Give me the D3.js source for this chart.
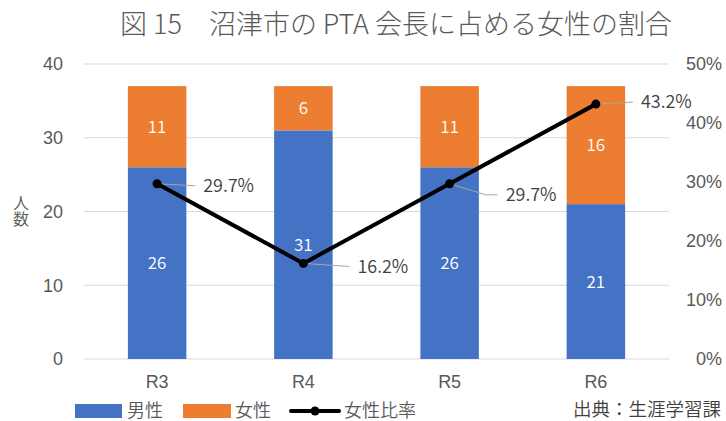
<!DOCTYPE html>
<html>
<head>
<meta charset="utf-8">
<script src="https://cdn.jsdelivr.net/npm/d3@7"></script>
<style>
  body { margin: 0; background: #fff; }
  svg { font-family: "Noto Sans CJK JP", "Noto Sans", sans-serif; font-weight: 350; }
  .tick line { display: none; }
  .domain { display: none; }
  .tick text { fill: #595959; font-size: 18px; }
</style>
</head>
<body>
<div id="box-div"></div>
<script>
// データ
const years = ['R3', 'R4', 'R5', 'R6']
const male = [26, 31, 26, 21]
const female = [11, 6, 11, 16]
const ratio = [29.7, 16.2, 29.7, 43.2]
const leftTicks = [0, 10, 20, 30, 40]
const rightTicks = [0, 10, 20, 30, 40, 50]

let dms = {
    width: 726,
    height: 421,
    margin: { top: 64, right: 57, bottom: 62, left: 84 }
}
dms.chartWidth = dms.width - dms.margin.left - dms.margin.right
dms.chartHeight = dms.height - dms.margin.top - dms.margin.bottom

const box = d3.select('#box-div').append('svg')
    .attr('width', dms.width)
    .attr('height', dms.height)

// タイトル
box.append('text')
    .attr('x', 396)
    .attr('y', 34)
    .attr('text-anchor', 'middle')
    .style('font-size', '27px')
    .style('font-weight', 300)
    .style('fill', '#595959')
    .text('図 15　沼津市の PTA 会長に占める女性の割合')

const content = box.append('g')
    .attr('transform', `translate(${dms.margin.left}, ${dms.margin.top})`)

const xScale = d3.scaleBand()
    .domain(years)
    .range([0, dms.chartWidth])
    .paddingInner(0.6)
    .paddingOuter(0.3)

const yScale = d3.scaleLinear()
    .domain([0, 40])
    .range([dms.chartHeight, 0])

const rScale = d3.scaleLinear()
    .domain([0, 50])
    .range([dms.chartHeight, 0])

// グリッド線
content.append('g').selectAll('line')
    .data(leftTicks)
    .join('line')
    .attr('x1', 0)
    .attr('x2', dms.chartWidth)
    .attr('y1', d => yScale(d))
    .attr('y2', d => yScale(d))
    .attr('stroke', '#d9d9d9')
    .attr('stroke-width', 1)

// 軸
content.append('g')
    .call(d3.axisLeft(yScale).tickValues(leftTicks).tickSize(0).tickPadding(21))

content.append('g')
    .attr('transform', `translate(${dms.chartWidth}, 0)`)
    .call(d3.axisRight(rScale).tickValues(rightTicks).tickSize(0).tickPadding(0)
        .tickFormat(d => d + '%'))
    .selectAll('text')
    .attr('text-anchor', 'end')
    .attr('x', 53)

content.append('g')
    .attr('transform', `translate(0, ${dms.chartHeight})`)
    .call(d3.axisBottom(xScale).tickSize(0).tickPadding(16))

// 縦軸タイトル（縦書き）
box.append('text')
    .attr('x', 21)
    .attr('y', 195)
    .style('writing-mode', 'vertical-rl')
    .style('font-size', '16px')
    .style('fill', '#595959')
    .text('人数')

// 積み上げ棒
const stackData = years.map((y, i) => ({ year: y, male: male[i], female: female[i] }))
const series = d3.stack().keys(['male', 'female'])(stackData)
const colors = { male: '#4472c4', female: '#ed7d31' }

const barArea = content.append('g')
series.forEach(s => {
    barArea.append('g').selectAll('rect')
        .data(s)
        .join('rect')
        .attr('x', d => xScale(d.data.year))
        .attr('y', d => yScale(d[1]))
        .attr('width', xScale.bandwidth())
        .attr('height', d => yScale(d[0]) - yScale(d[1]))
        .attr('fill', colors[s.key])

    barArea.append('g').selectAll('text')
        .data(s)
        .join('text')
        .attr('x', d => xScale(d.data.year) + xScale.bandwidth() / 2)
        .attr('y', d => (yScale(d[0]) + yScale(d[1])) / 2)
        .attr('dy', '0.35em')
        .attr('text-anchor', 'middle')
        .style('fill', '#fff')
        .style('font-size', '17px')
        .text(d => d[1] - d[0])
})

// 女性比率の折れ線
const cx = (d, i) => xScale(years[i]) + xScale.bandwidth() / 2
const line = d3.line()
    .x((d, i) => cx(d, i))
    .y(d => rScale(d))

// ラベル位置（ずらし量）
const labelOffsets = [[46, 2], [54, 3], [56, 11], [45, -2]]

const labels = content.append('g')
ratio.forEach((r, i) => {
    const px = cx(r, i), py = rScale(r)
    const lx = px + labelOffsets[i][0], ly = py + labelOffsets[i][1]
    const pts = Math.abs(ly - py) > 5
        ? [[px, py], [lx - 20, ly], [lx - 8, ly]]
        : [[px, py], [lx - 8, ly]]
    labels.append('path')
        .attr('d', d3.line()(pts))
        .attr('fill', 'none')
        .attr('stroke', '#a6a6a6')
        .attr('stroke-width', 1)
    labels.append('text')
        .attr('x', lx)
        .attr('y', ly)
        .attr('dy', '0.35em')
        .style('font-size', '18px')
        .style('fill', '#404040')
        .text(r.toFixed(1) + '%')
})

content.append('path')
    .datum(ratio)
    .attr('d', line)
    .attr('fill', 'none')
    .attr('stroke', '#000')
    .attr('stroke-width', 4)
    .attr('stroke-linejoin', 'round')

content.append('g').selectAll('circle')
    .data(ratio)
    .join('circle')
    .attr('cx', (d, i) => cx(d, i))
    .attr('cy', d => rScale(d))
    .attr('r', 4.5)
    .attr('fill', '#000')

// 凡例
const legend = box.append('g').attr('transform', 'translate(0, 411)')
legend.append('rect').attr('x', 75).attr('y', -7).attr('width', 47).attr('height', 14).attr('fill', colors.male)
legend.append('text').attr('x', 127).attr('dy', '0.35em').text('男性')
legend.append('rect').attr('x', 183).attr('y', -7).attr('width', 48).attr('height', 14).attr('fill', colors.female)
legend.append('text').attr('x', 235).attr('dy', '0.35em').text('女性')
legend.append('line').attr('x1', 291).attr('x2', 339).attr('y1', 0).attr('y2', 0)
    .attr('stroke', '#000').attr('stroke-width', 4).attr('stroke-linecap', 'round')
legend.append('circle').attr('cx', 315).attr('cy', 0).attr('r', 4.5).attr('fill', '#000')
legend.append('text').attr('x', 344).attr('dy', '0.35em').text('女性比率')
legend.selectAll('text').style('font-size', '18px').style('fill', '#595959')

box.append('text')
    .attr('x', 721)
    .attr('y', 410)
    .attr('dy', '0.35em')
    .attr('text-anchor', 'end')
    .style('font-size', '18.5px')
    .style('fill', '#404040')
    .text('出典：生涯学習課')
</script>
</body>
</html>
